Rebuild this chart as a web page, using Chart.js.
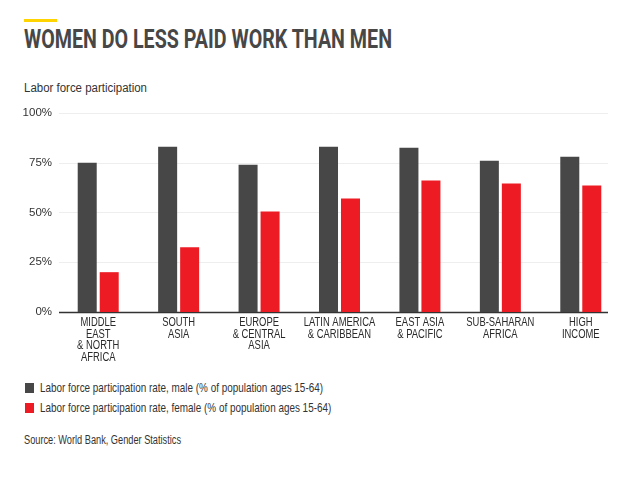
<!DOCTYPE html>
<html>
<head>
<meta charset="utf-8">
<script src="https://cdn.jsdelivr.net/npm/chart.js@4.4.1/dist/chart.umd.min.js"></script>
<style>
  html, body { margin: 0; padding: 0; background: #fff; }
  body { width: 640px; height: 479px; position: relative; overflow: hidden; font-family: "Liberation Sans", Arial, sans-serif; color: #333; }
  .bar { position: absolute; left: 24px; top: 19px; width: 33px; height: 3px; background: #FFD400; }
  .fit { position: absolute; white-space: nowrap; transform-origin: 0 0; }
  .title { left: 24px; top: 25px; font-family: Roboto, sans-serif; font-weight: 700; font-size: 25px; color: #474747; }
  .sub { left: 24px; top: 81px; font-size: 12.5px; }
  .chart { position: absolute; left: 0; top: 100px; width: 640px; height: 280px; }
  .legend { position: absolute; left: 25px; top: 380px; font-size: 13px; }
  .legend div { height: 20px; line-height: 15px; white-space: nowrap; }
  .legend span { display: inline-block; width: 9px; height: 10px; margin-right: 6px; vertical-align: -1px; }
  .legend em { font-style: normal; display: inline-block; transform-origin: 0 0; }
  .source { left: 24px; top: 433px; font-size: 12.5px; }
</style>
</head>
<body>
<div class="bar"></div>
<div class="fit title" id="title">WOMEN DO LESS PAID WORK THAN MEN</div>
<div class="fit sub" id="sub">Labor force participation</div>
<div class="chart"><canvas id="c"></canvas></div>
<div class="legend" id="legend"></div>
<div class="fit source" id="source">Source: World Bank, Gender Statistics</div>
<script>
const regions = [
  ['MIDDLE', 'EAST', '& NORTH', 'AFRICA'],
  ['SOUTH', 'ASIA'],
  ['EUROPE', '& CENTRAL', 'ASIA'],
  ['LATIN AMERICA', '& CARIBBEAN'],
  ['EAST ASIA', '& PACIFIC'],
  ['SUB-SAHARAN', 'AFRICA'],
  ['HIGH', 'INCOME']
];
const maleRate = [75, 83, 74, 83, 82.5, 76, 78];
const femaleRate = [20, 32.5, 50.5, 57, 66, 64.5, 63.5];
const yTicks = [0, 25, 50, 75, 100];

const seriesNames = [
  'Labor force participation rate, male (% of population ages 15-64)',
  'Labor force participation rate, female (% of population ages 15-64)'
];
const seriesColors = ['#474747', '#ED1C24'];

// the source image is squeezed sideways, so text gets squeezed to the same widths
function fitWidth(el, w) {
  el.style.transform = `scaleX(${w / el.getBoundingClientRect().width})`;
}

// grid lines stop short of the chart area on the right, like the original
const gridLines = {
  id: 'gridLines',
  beforeDatasetsDraw(chart) {
    const { ctx, scales: { y } } = chart;
    const x0 = 59, x1 = 608;
    ctx.save();
    for (const v of yTicks) {
      const py = Math.round(y.getPixelForValue(v)) + 0.5;
      ctx.beginPath();
      ctx.strokeStyle = v === 0 ? '#333' : '#eeeeee';
      ctx.lineWidth = v === 0 ? 1.5 : 1;
      ctx.moveTo(x0, py);
      ctx.lineTo(x1, py);
      ctx.stroke();
    }
    ctx.restore();
  }
};

// narrow category labels under the axis
const narrowLabels = {
  id: 'narrowLabels',
  afterDraw(chart) {
    const { ctx, chartArea, scales: { x } } = chart;
    ctx.save();
    ctx.font = '12px "Liberation Sans"';
    ctx.fillStyle = '#2a2a2a';
    ctx.textAlign = 'center';
    ctx.textBaseline = 'middle';
    regions.forEach((lines, i) => {
      const px = x.getPixelForValue(i);
      lines.forEach((t, k) => {
        ctx.save();
        ctx.translate(px, chartArea.bottom + 10.5 + k * 11.7);
        ctx.scale(0.785, 1);
        ctx.fillText(t, 0, 0);
        ctx.restore();
      });
    });
    ctx.restore();
  }
};

new Chart(document.getElementById('c'), {
  type: 'bar',
  data: {
    labels: regions,
    datasets: [
      { label: seriesNames[0], data: maleRate, backgroundColor: seriesColors[0] },
      { label: seriesNames[1], data: femaleRate, backgroundColor: seriesColors[1] }
    ]
  },
  options: {
    responsive: true,
    maintainAspectRatio: false,
    animation: false,
    categoryPercentage: 0.547,
    barPercentage: 0.864,
    layout: { padding: { top: 10, right: 19, left: 0, bottom: 0 } },
    scales: {
      x: {
        grid: { display: false, drawTicks: false },
        border: { display: false },
        ticks: { display: false },
        afterFit: (s) => { s.height = 68; }
      },
      y: {
        min: 0,
        max: 100,
        afterBuildTicks: (s) => { s.ticks = yTicks.map(v => ({ value: v })); },
        grid: { display: false, drawTicks: false },
        border: { display: false },
        ticks: { color: '#333', padding: 6, font: { family: 'Liberation Sans', size: 11.5 }, callback: v => v + '%' },
        afterFit: (s) => { s.width = 58; }
      }
    },
    plugins: {
      legend: { display: false },
      tooltip: { enabled: false }
    }
  },
  plugins: [gridLines, narrowLabels]
});

document.getElementById('legend').innerHTML = seriesNames
  .map((n, i) => `<div><span style="background:${seriesColors[i]}"></span><em>${n}</em></div>`)
  .join('');

fitWidth(document.getElementById('title'), 368);
fitWidth(document.getElementById('sub'), 123);
fitWidth(document.getElementById('source'), 157);
const legendText = document.querySelectorAll('.legend em');
const legendScale = 283 / legendText[0].getBoundingClientRect().width;
legendText.forEach(el => { el.style.transform = `scaleX(${legendScale})`; });
</script>
</body>
</html>
